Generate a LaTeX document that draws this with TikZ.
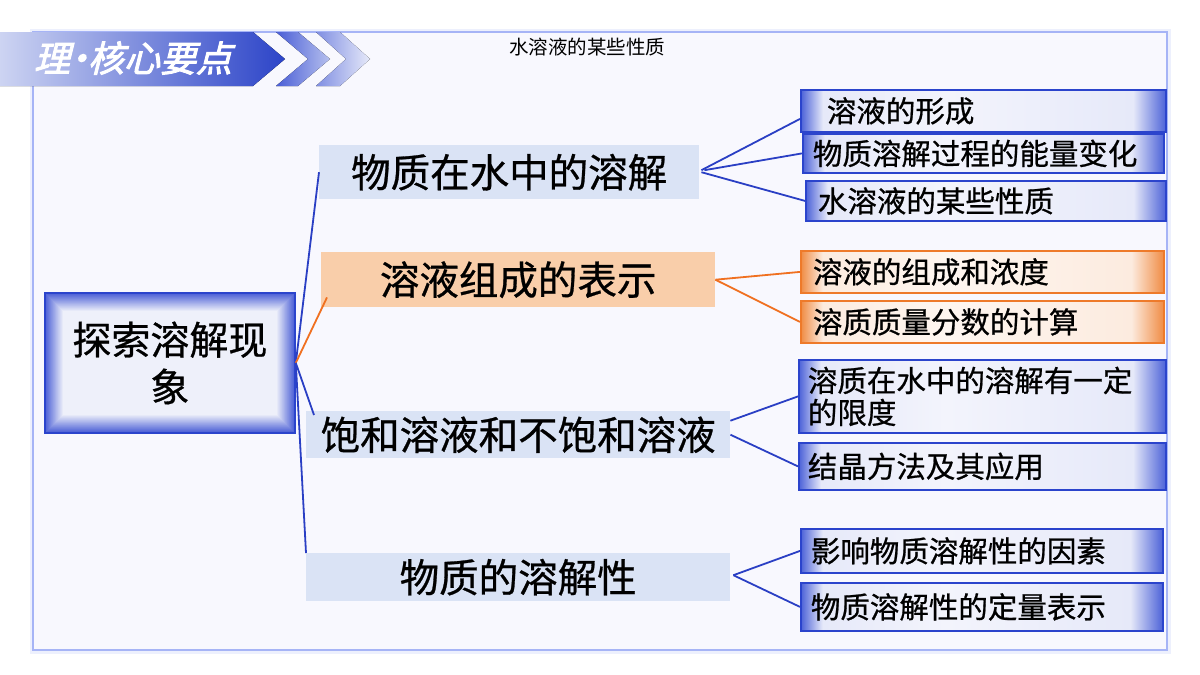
\documentclass[tikz,border=0pt]{standalone}
\usepackage{fontspec}
\setmainfont{Noto Sans CJK SC}[FakeBold=0.7]
\newfontfamily\bannerfont[FakeSlant=0.25,FakeBold=2.5]{Noto Sans CJK SC}
\newfontfamily\plainfont{Noto Sans CJK SC}
\usetikzlibrary{calc}

\definecolor{frameC}{HTML}{A6B4F6}
\definecolor{bgC}{HTML}{F8F8FE}
\definecolor{bdrB}{HTML}{2B44CC}
\definecolor{lineB}{HTML}{2A3FC4}
\definecolor{lineO}{HTML}{F07020}
\definecolor{bdrO}{HTML}{EE7A2A}
\definecolor{lvA}{HTML}{DAE3F5}
\definecolor{lvB}{HTML}{F9CEAA}
\definecolor{sb1}{HTML}{4C62D8}
\definecolor{sb2}{HTML}{A9B3EC}
\definecolor{sb3}{HTML}{E6E9F9}
\definecolor{sb4}{HTML}{F3F4FC}
\definecolor{so1}{HTML}{F08C44}
\definecolor{so2}{HTML}{F7C09A}
\definecolor{so3}{HTML}{FCEBDF}
\definecolor{so4}{HTML}{FEF6F0}
\definecolor{rtB}{HTML}{4A5ED6}
\definecolor{rtL}{HTML}{EEF0FA}
\definecolor{banL}{HTML}{CDD4F2}
\definecolor{banR}{HTML}{2C44C8}
\definecolor{chA1}{HTML}{4A5ED6}
\definecolor{chA2}{HTML}{B6C0EE}
\definecolor{chB1}{HTML}{7F8EE2}
\definecolor{chB2}{HTML}{E6E9F9}

\pgfdeclarehorizontalshading{l2blue}{100bp}{color(0bp)=(sb1); color(25bp)=(sb1); color(28bp)=(sb3); color(45bp)=(sb4); color(70.5bp)=(sb3); color(75bp)=(sb1); color(100bp)=(sb1)}
\pgfdeclarehorizontalshading{l2orange}{100bp}{color(0bp)=(so1); color(25bp)=(so1); color(28bp)=(so3); color(45bp)=(so4); color(70.5bp)=(so3); color(75bp)=(so1); color(100bp)=(so1)}

\tikzset{
  lvone/.style={fill=#1, inner sep=0pt, anchor=north west, font=\fontsize{39.5}{44}\selectfont},
  lvtwo/.style={draw=bdrB, line width=1.8pt, shade, shading=l2blue, anchor=north west,
    inner xsep=9pt, inner ysep=0pt, align=left, font=\fontsize{29.5}{32}\selectfont},
  lvtwoO/.style={lvtwo, draw=bdrO, shading=l2orange},
  rootbox/.style={draw=bdrB, line width=1.8pt, align=center, inner sep=0pt, anchor=north west,
    font=\fontsize{39}{47}\selectfont,
    path picture={
      \foreach \i in {0,...,18}{
        \pgfmathtruncatemacro\p{100-\i*100/18}
        \fill[rtB!\p!rtL] ([xshift=\i pt,yshift=-\i pt]path picture bounding box.north west)
          rectangle ([xshift=-\i pt,yshift=\i pt]path picture bounding box.south east);
      }
    }},
  conB/.style={draw=lineB, line width=1.8pt},
  conO/.style={draw=lineO, line width=1.8pt}
}

\begin{document}
\begin{tikzpicture}[x=1pt,y=-1pt]
\useasboundingbox (0,0) rectangle (1200,675);
\fill[white] (0,0) rectangle (1200,675);

% frame
\draw[frameC!20, line width=7pt] (33,32) rectangle (1167,650);
\draw[frameC, line width=2.5pt, fill=bgC] (33,32) rectangle (1167,650);

% banner
\fill[left color=banL, right color=banR] (0,32) -- (253,32) -- (285,59) -- (253,86) -- (0,86) -- cycle;
\fill[left color=chA1, right color=chA2] (276,32) -- (298,32) -- (330,59) -- (298,86) -- (276,86) -- (308,59) -- cycle;
\fill[left color=chB1, right color=chB2] (316,32) -- (340,32) -- (370,59) -- (340,86) -- (316,86) -- (346,59) -- cycle;
\node[text=white, font=\bannerfont\fontsize{36}{36}\selectfont] (ban) at (133,58) {理\kern-9pt•\kern-9pt核心要点};

% title
\node[font=\plainfont\fontsize{19.5}{20}\selectfont] (title) at (587,47) {水溶液的某些性质};

% root
\node[rootbox, minimum width=250pt, minimum height=140pt] (root) at (44,292) {探索溶解现\\象};

% level 1
\node[lvone=lvA, minimum width=380pt, minimum height=54pt] (A) at (319,145) {物质在水中的溶解};
\node[lvone=lvB, minimum width=394pt, minimum height=55pt] (B) at (321,252) {溶液组成的表示};
\node[lvone=lvA, minimum width=424pt, minimum height=47pt] (C) at (306,411) {饱和溶液和不饱和溶液};
\node[lvone=lvA, minimum width=424pt, minimum height=48pt] (D) at (306,553) {物质的溶解性};

% level 2
\node[lvtwo, minimum width=365pt, minimum height=42pt, text width=347pt] (a1) at (800,89) {\hspace*{17pt}溶液的形成};
\node[lvtwo, minimum width=361pt, minimum height=39pt, text width=343pt] (a2) at (802,133) {\hspace*{1pt}物质溶解过程的能量变化};
\node[lvtwo, minimum width=360pt, minimum height=40pt, text width=342pt] (a3) at (805,180) {\hspace*{3pt}水溶液的某些性质};
\node[lvtwoO, minimum width=363pt, minimum height=42pt, text width=345pt] (b1) at (800,250) {\hspace*{3pt}溶液的组成和浓度};
\node[lvtwoO, minimum width=363pt, minimum height=42pt, text width=345pt] (b2) at (800,300) {\hspace*{3pt}溶质质量分数的计算};
\node[lvtwo, minimum width=367pt, minimum height=73pt, text width=349pt] (c1) at (798,359) {溶质在水中的溶解有一定\\的限度};
\node[lvtwo, minimum width=367pt, minimum height=47pt, text width=349pt] (c2) at (798,442) {结晶方法及其应用};
\node[lvtwo, minimum width=362pt, minimum height=44pt, text width=344pt] (d1) at (800,528) {\hspace*{1pt}影响物质溶解性的因素};
\node[lvtwo, minimum width=362pt, minimum height=48pt, text width=344pt] (d2) at (800,582) {\hspace*{1pt}物质溶解性的定量表示};

% connectors from root
\draw[conB] (root.east) -- (A.west);
\draw[conO] (root.east) -- ($(B.south west)+(6,-10)$);
\draw[conB] (root.east) -- ($(C.north west)+(8,4)$);
\draw[conB] (root.east) -- (D.north west);

% connectors level 1 -> level 2
\draw[conB] ($(A.east)+(2,-2)$) -- ($(a1.west)+(0,8)$);
\draw[conB] ($(A.east)+(5,-2)$) -- (a2.west);
\draw[conB] ($(A.east)+(2,0)$) -- (a3.west);
\draw[conO] (B.east) -- (b1.west);
\draw[conO] (B.east) -- (b2.west);
\draw[conB] ($(C.east)+(0,-14)$) -- (c1.west);
\draw[conB] (C.east) -- (c2.west);
\draw[conB] ($(D.east)+(3,-2)$) -- (d1.west);
\draw[conB] ($(D.east)+(3,-2)$) -- (d2.west);
\end{tikzpicture}
\end{document}
